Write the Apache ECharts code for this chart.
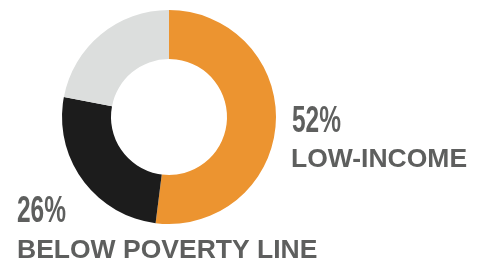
<!DOCTYPE html>
<html>
<head>
<meta charset="utf-8">
<style>
  html, body { margin: 0; padding: 0; background: #fff; }
  #chart { width: 481px; height: 261px; }
</style>
<script src="https://cdn.jsdelivr.net/npm/echarts@6/dist/echarts.min.js"></script>
</head>
<body>
<div id="chart"></div>
<script>
/* data */
const segments = ["Low-income", "Below poverty line", "Other"];
const values = [52, 26, 22];
const colors = ["#ec9430", "#1c1c1c", "#dcdedd"];
const labelNames = ["LOW-INCOME", "BELOW POVERTY LINE"];

const TXT = "#5e5f5e";
const FONT = "'Liberation Sans', Arial, sans-serif";

const chart = echarts.init(document.getElementById("chart"), null, { renderer: "canvas" });

// text placed by its top-left corner; sx squeezes the wide font into a condensed look
function label(x, y, text, size, sx) {
  return {
    type: "text",
    x,
    y,
    scaleX: sx || 1,
    style: { text, fill: TXT, font: `bold ${size}px ${FONT}`, verticalAlign: "top" },
  };
}

chart.setOption({
  animation: false,
  series: [
    {
      type: "pie",
      center: [169, 117],
      radius: [58, 107],
      startAngle: 90,
      clockwise: true,
      silent: true,
      label: { show: false },
      labelLine: { show: false },
      data: segments.map((name, i) => ({
        name,
        value: values[i],
        itemStyle: { color: colors[i] },
      })),
    },
  ],
  graphic: [
    label(292, 104, values[0] + "%", 36, 0.68),
    label(291, 146, labelNames[0], 26.5),
    label(17, 194, values[1] + "%", 36, 0.68),
    label(17, 237, labelNames[1], 26.5),
  ],
});
</script>
</body>
</html>
